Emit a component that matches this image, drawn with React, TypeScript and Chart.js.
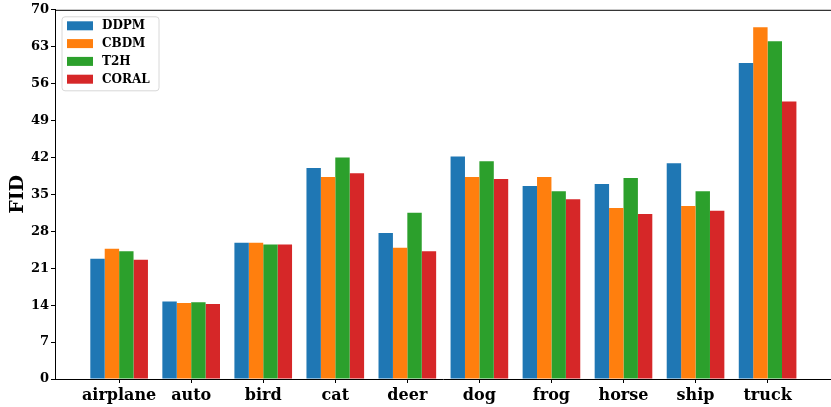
import React, { useEffect, useRef } from "react";
import { Chart, registerables } from "chart.js";

Chart.register(...registerables);

const categories = ["airplane", "auto", "bird", "cat", "deer", "dog", "frog", "horse", "ship", "truck"];
const seriesNames = ["DDPM", "CBDM", "T2H", "CORAL"];
const ddpm = [22.8, 14.7, 25.85, 40.0, 27.7, 42.2, 36.6, 36.95, 40.9, 59.9];
const cbdm = [24.7, 14.4, 25.85, 38.3, 24.9, 38.3, 38.3, 32.4, 32.8, 66.7];
const t2h = [24.2, 14.55, 25.5, 42.0, 31.5, 41.3, 35.6, 38.1, 35.6, 64.05];
const coral = [22.6, 14.2, 25.5, 39.0, 24.2, 37.9, 34.1, 31.3, 31.9, 52.6];
const colors = ["#1f77b4", "#ff7f0e", "#2ca02c", "#d62728"];
const yTicks = [0, 7, 14, 21, 28, 35, 42, 49, 56, 63, 70];

const FONT = "'DejaVu Serif', serif";

const frameAndLegend = {
  id: "frameAndLegend",
  afterDraw(chart: any) {
    const ctx = chart.ctx;
    const a = chart.chartArea;
    ctx.save();
    // top spine
    ctx.strokeStyle = "#000";
    ctx.lineWidth = 1;
    ctx.beginPath();
    ctx.moveTo(a.left, a.top + 0.5);
    ctx.lineTo(a.right, a.top + 0.5);
    ctx.stroke();
    // legend
    const lx = a.left + 7, ly = a.top + 7, lw = 97, lh = 74;
    ctx.fillStyle = "rgba(255,255,255,0.8)";
    ctx.strokeStyle = "#d8d8d8";
    ctx.beginPath();
    const r = 3;
    ctx.moveTo(lx + r, ly);
    ctx.lineTo(lx + lw - r, ly);
    ctx.quadraticCurveTo(lx + lw, ly, lx + lw, ly + r);
    ctx.lineTo(lx + lw, ly + lh - r);
    ctx.quadraticCurveTo(lx + lw, ly + lh, lx + lw - r, ly + lh);
    ctx.lineTo(lx + r, ly + lh);
    ctx.quadraticCurveTo(lx, ly + lh, lx, ly + lh - r);
    ctx.lineTo(lx, ly + r);
    ctx.quadraticCurveTo(lx, ly, lx + r, ly);
    ctx.closePath();
    ctx.fill();
    ctx.stroke();
    ctx.font = "bold 12px " + FONT;
    ctx.textBaseline = "middle";
    seriesNames.forEach((name, i) => {
      const cy = ly + 9 + i * 17.8;
      ctx.fillStyle = colors[i];
      ctx.fillRect(lx + 5, cy - 4.5, 26, 9);
      ctx.fillStyle = "#000";
      ctx.fillText(name, lx + 40, cy + 0.5);
    });
    ctx.restore();
  },
};

export default function App() {
  const ref = useRef<HTMLCanvasElement>(null);
  useEffect(() => {
    const series = [ddpm, cbdm, t2h, coral];
    const chart = new Chart(ref.current!, {
      type: "bar",
      data: {
        datasets: series.map((s, i) => ({
          label: seriesNames[i],
          data: s.map((v, j) => ({ x: j, y: v })),
          backgroundColor: colors[i],
          borderWidth: 0,
          categoryPercentage: 0.8,
          barPercentage: 1.0,
        })),
      },
      options: {
        animation: false,
        responsive: false,
        maintainAspectRatio: false,
        layout: { padding: { top: 7, right: 0, left: 0, bottom: 0 } },
        plugins: { legend: { display: false }, tooltip: { enabled: false } },
        scales: {
          x: {
            type: "linear",
            offset: false,
            min: -0.89,
            max: 9.88,
            afterBuildTicks: (s: any) => {
              s.ticks = categories.map((_, i) => ({ value: i }));
            },
            afterFit: (s: any) => {
              s.height = 28;
            },
            ticks: {
              callback: (v: any) => categories[v as number] ?? "",
              color: "#000",
              font: { family: FONT, size: 16, weight: "bold" },
              padding: 3,
              maxRotation: 0,
              autoSkip: false,
            },
            grid: { drawOnChartArea: false, drawTicks: true, tickLength: 4, color: "#000", offset: false },
            border: { display: true, color: "#000", width: 1 },
          },
          y: {
            min: 0,
            max: 70,
            afterBuildTicks: (s: any) => {
              s.ticks = yTicks.map((v) => ({ value: v }));
            },
            afterFit: (s: any) => {
              s.width = 55;
            },
            ticks: {
              color: "#000",
              font: { family: FONT, size: 13, weight: "bold" },
              padding: 2,
            },
            grid: { drawOnChartArea: false, drawTicks: true, tickLength: 4, color: "#000" },
            border: { display: true, color: "#000", width: 1 },
            title: {
              display: true,
              text: "FID",
              color: "#000",
              font: { family: FONT, size: 19, weight: "bold" },
              padding: { top: 7, bottom: 0 },
            },
          },
        },
      },
      plugins: [frameAndLegend],
    });
    return () => chart.destroy();
  }, []);
  return (
    <div style={{ position: "fixed", left: 0, top: 0, width: 831, height: 407 }}>
      <canvas ref={ref} width={831} height={407} style={{ width: 831, height: 407 }} />
    </div>
  );
}
